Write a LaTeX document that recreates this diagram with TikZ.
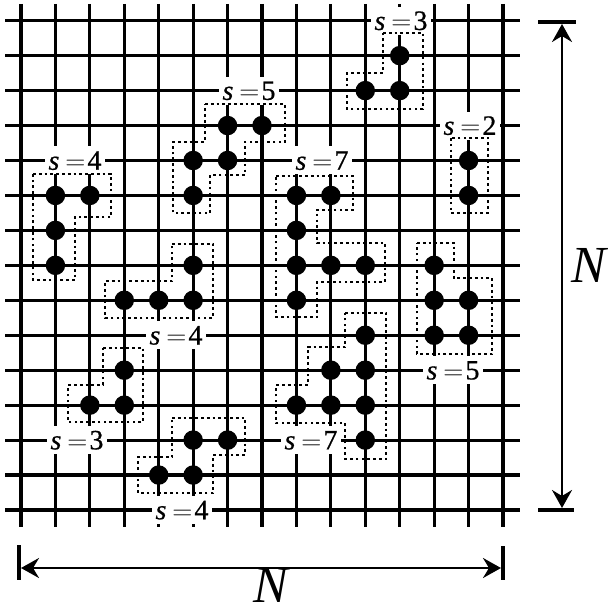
\documentclass[tikz,border=0pt]{standalone}
\usepackage{fontspec}
\setmainfont{Liberation Serif}
\newfontfamily\labfont{Liberation Serif}[FakeBold=0.6]
\usepackage{graphicx}
\usetikzlibrary{arrows.meta}
\newcommand\gx[1]{21+34.43*#1}
\newcommand\gy[1]{20.7+34.95*#1}
\newcommand\slab[1]{\textit{s}\kern6pt\scalebox{1.12}[1.05]{$=$}\kern2pt#1}
\tikzset{
  gridline/.style={line width=3.2pt},
  site/.style={circle, fill=black, inner sep=0pt, minimum size=19.5pt},
  lab/.style={fill=white, inner xsep=3.5pt, inner ysep=0pt, minimum height=28pt,
    text height=18.5pt, text depth=0pt, font=\labfont\fontsize{28}{28}\selectfont},
  outline/.style={line width=2.7pt, dash pattern=on 2.7pt off 3.1pt},
  barline/.style={line width=4pt},
  dimarrow/.style={line width=2.5pt, {Stealth[length=18pt,width=20pt,inset=6pt]}-{Stealth[length=18pt,width=20pt,inset=6pt]}},
  biglab/.style={font=\fontsize{52}{52}\selectfont\itshape, inner sep=0pt, anchor=base}
}
\begin{document}
\begin{tikzpicture}[x=1pt,y=-1pt]
\useasboundingbox (0,0) rectangle (607,612);
% grid
\foreach \i in {0,...,14} {\draw[gridline] ({\gx{\i}},4) -- ({\gx{\i}},527);}
\foreach \j in {0,...,14} {\draw[gridline] (5,{\gy{\j}}) -- (520,{\gy{\j}});}
% labels
\node[lab] (lA) at (401,{\gy{0}}) {\slab{3}};
\node[lab] (lB) at (249,{\gy{2}}) {\slab{5}};
\node[lab] (lC) at (75,{\gy{4}}) {\slab{4}};
\node[lab] (lD) at (322,{\gy{4}}) {\slab{7}};
\node[lab] (lE) at (470,{\gy{3}}) {\slab{2}};
\node[lab] (lF) at (453,{\gy{10}}) {\slab{5}};
\node[lab] (lG) at (176,{\gy{9}}) {\slab{4}};
\node[lab] (lH) at (77,{\gy{12}}) {\slab{3}};
\node[lab] (lI) at (311,{\gy{12}}) {\slab{7}};
\node[lab] (lJ) at (182,{\gy{14}}) {\slab{4}};
% outlines
\draw[outline] (383,33) -- (423,33) -- (423,109) -- (347,109) -- (347,73) -- (383,73) -- cycle;
\draw[outline] (205,104) -- (285,104) -- (285,142) -- (245,142) -- (245,175) -- (210,175) -- (210,213) -- (173,213) -- (173,142) -- (205,142) -- cycle;
\draw[outline] (33,174) -- (111,174) -- (111,217) -- (75,217) -- (75,280) -- (33,280) -- cycle;
\draw[outline] (276,176) -- (353,176) -- (353,210) -- (317,210) -- (317,243) -- (385,243) -- (385,282) -- (317,282) -- (317,317) -- (276,317) -- cycle;
\draw[outline] (451,138) rectangle (488,213);
\draw[outline] (417,243) -- (454,243) -- (454,278) -- (492,278) -- (492,354) -- (417,354) -- cycle;
\draw[outline] (172,244) -- (213,244) -- (213,318) -- (105,318) -- (105,281) -- (172,281) -- cycle;
\draw[outline] (103,348) -- (143,348) -- (143,422) -- (68,422) -- (68,385) -- (103,385) -- cycle;
\draw[outline] (345,313) -- (386,313) -- (386,459) -- (345,459) -- (345,423) -- (276,423) -- (276,385) -- (308,385) -- (308,347) -- (345,347) -- cycle;
\draw[outline] (172,418) -- (245,418) -- (245,455) -- (213,455) -- (213,493) -- (138,493) -- (138,457) -- (172,457) -- cycle;
% sites
\foreach \i/\j in {11/1,10/2,11/2, 6/3,7/3,5/4,6/4,5/5, 1/5,2/5,1/6,1/7,
  8/5,9/5,8/6,8/7,9/7,10/7,8/8, 13/4,13/5, 12/7,12/8,13/8,12/9,13/9,
  5/7,3/8,4/8,5/8, 3/10,2/11,3/11, 10/9,9/10,10/10,8/11,9/11,10/11,10/12,
  5/12,6/12,4/13,5/13}
  {\node[site] (s-\i-\j) at ({\gx{\i}},{\gy{\j}}) {};}
% vertical dimension
\coordinate (vt) at (562,24);
\coordinate (vb) at (562,508);
\draw[barline] (538,22) -- (576,22);
\draw[barline] (538,510) -- (574,510);
\draw[dimarrow] (vt) -- (vb);
\node[biglab] (nr) at (589,282) {N};
% horizontal dimension
\coordinate (hl) at (21,568);
\coordinate (hr) at (501,568);
\draw[barline] (19,545) -- (19,580);
\draw[barline] (503,546) -- (503,580);
\draw[dimarrow] (hl) -- (hr);
\node[biglab] (nb) at (271,602) {N};
\end{tikzpicture}
\end{document}
